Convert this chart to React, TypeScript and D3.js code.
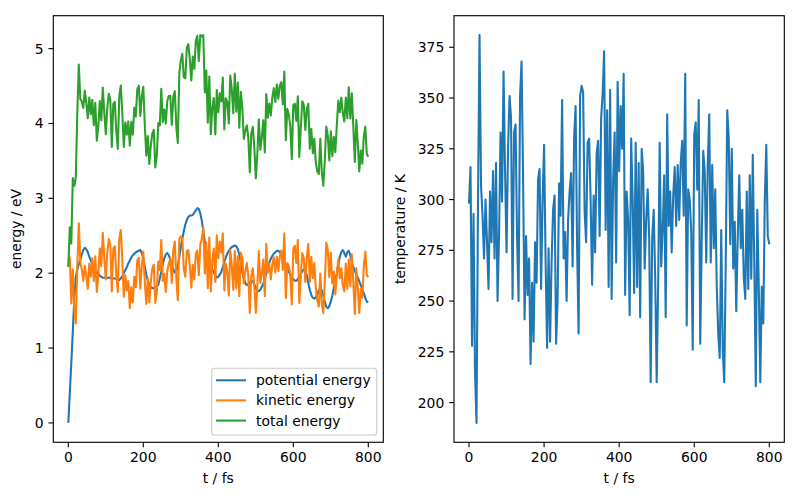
import React from 'react';
import * as d3 from 'd3';

// ---------------- data ----------------
const TIME_STEP_FS = 4;

// temperature / K, sampled every 4 fs (t = 0 ... 800)
const temperature: number[] = [
  298, 316, 228, 293, 215, 190, 300, 381, 307, 292,
  271, 300, 279, 256, 304, 279, 314, 271, 318, 250,
  282, 333, 299, 363, 314, 274, 325, 351, 340, 251,
  333, 337, 282, 250, 351, 368, 312, 241, 282, 253,
  271, 219, 259, 230, 279, 259, 310, 315, 256, 300,
  327,
  270, 227, 276, 230, 269, 295, 302, 229, 250, 308,
  292, 349, 271, 284, 250, 290, 304, 313, 267, 330,
  346, 276, 234, 351, 356, 353, 294, 279, 328, 330,
  300, 258, 302, 274, 323, 329, 282, 340, 352, 373,
  285, 344, 257, 354, 251, 310, 333, 269, 358, 314,
  346, 325, 362, 253, 304, 290, 243, 330, 300, 254,
  328, 257, 318, 242, 325, 314, 266, 290, 305, 281,
  210, 281, 295, 262, 210, 259, 328, 267, 285, 312,
  242, 342, 287, 304, 274, 302, 316, 287, 317, 290,
  318, 329, 292, 362, 238, 305, 300, 284, 226, 332,
  338, 305, 349, 229, 279, 324, 314, 269, 317, 342,
  269, 317, 276, 305, 257, 234, 222, 285, 226, 210,
  269, 344, 330, 278, 325, 266, 289, 245, 282, 312,
  276, 295, 262, 251, 304, 256, 312, 261, 322, 269,
  208, 295, 257, 210, 257, 239, 299, 327, 282, 278,
];

// potential energy / eV, sampled every 4 fs (t = 0 ... 800)
const potentialEnergy: number[] = [
  0.00, 0.40, 0.80, 1.22, 1.66, 1.95, 2.05, 2.12, 2.18, 2.25,
  2.31, 2.34, 2.32, 2.28, 2.22, 2.17, 2.12, 2.08, 2.05, 2.02,
  1.99, 1.97, 1.95, 1.94, 1.94, 1.94, 1.94, 1.94, 1.94, 1.93,
  1.93, 1.93, 1.92, 1.91, 1.91, 1.93, 1.96, 2.00, 2.04, 2.08,
  2.13, 2.17, 2.21, 2.24, 2.26, 2.28, 2.29, 2.30, 2.31, 2.27,
  2.20, 2.09, 1.98, 1.90, 1.85, 1.82, 1.80, 1.80, 1.81, 1.82,
  1.85, 1.93, 2.02, 2.12, 2.20, 2.25, 2.27, 2.24, 2.18, 2.11,
  2.05, 2.01, 2.03, 2.10, 2.22, 2.35, 2.46, 2.56, 2.65, 2.71,
  2.75, 2.77, 2.77, 2.78, 2.81, 2.84, 2.87, 2.86, 2.80, 2.70,
  2.57, 2.42, 2.30, 2.21, 2.15, 2.10, 2.05, 2.01, 1.97, 1.94,
  1.95, 1.98, 2.02, 2.08, 2.15, 2.21, 2.26, 2.30, 2.33, 2.35,
  2.36, 2.37, 2.36, 2.32, 2.25, 2.15, 2.02, 1.93, 1.87, 1.84,
  1.85, 1.88, 1.90, 1.89, 1.85, 1.80, 1.77, 1.76, 1.78, 1.82,
  1.86, 1.92, 2.00, 2.07, 2.14, 2.19, 2.23, 2.26, 2.28, 2.30,
  2.30, 2.28, 2.25, 2.21, 2.16, 2.11, 2.06, 2.02, 1.98, 1.94,
  1.92, 1.90, 1.90, 1.92, 1.95, 1.99, 2.03, 2.05, 2.03, 1.97,
  1.87, 1.78, 1.71, 1.67, 1.66, 1.68, 1.72, 1.77, 1.80, 1.77,
  1.70, 1.62, 1.55, 1.53, 1.56, 1.62, 1.70, 1.80, 1.90, 2.00,
  2.12, 2.22, 2.28, 2.31, 2.27, 2.22, 2.28, 2.30, 2.24, 2.15,
  2.08, 2.03, 1.98, 1.94, 1.89, 1.84, 1.79, 1.73, 1.67, 1.62,
  1.61,
];

// kinetic energy follows from the temperature (3/2 N kB, eV per K)
const KE_PER_KELVIN = 0.007;

const times: number[] = temperature.map((_, i) => i * TIME_STEP_FS);
const kineticEnergy: number[] = temperature.map((T) => T * KE_PER_KELVIN);
const totalEnergy: number[] = potentialEnergy.map((p, i) => p + kineticEnergy[i]);

const timeTicks = [0, 200, 400, 600, 800];
const energyTicks = [0, 1, 2, 3, 4, 5];
const temperatureTicks = [200, 225, 250, 275, 300, 325, 350, 375];
const seriesNames = ['potential energy', 'kinetic energy', 'total energy'];
const seriesColors = ['#1f77b4', '#ff7f0e', '#2ca02c'];

// ---------------- layout ----------------
const W = 800;
const H = 500;
const FONT = "'DejaVu Sans', sans-serif";
const FS = 13.9;
const SPINE = 1.11;
const TICK = 4.86;
const PAD = 4.86;
const LW = 2.08;

const LEFT = { x0: 53.3, x1: 383.3, y0: 15.7, y1: 442.3 };
const RIGHT = { x0: 454, x1: 784.3, y0: 15.7, y1: 442.3 };

function padded(ext: [number, number]): [number, number] {
  const r = ext[1] - ext[0];
  return [ext[0] - 0.05 * r, ext[1] + 0.05 * r];
}

type Box = { x0: number; x1: number; y0: number; y1: number };

function AxisFrame({
  box,
  x,
  y,
  xTicks,
  yTicks,
  xLabel,
  yLabel,
  yLabelX,
}: {
  box: Box;
  x: d3.ScaleLinear<number, number>;
  y: d3.ScaleLinear<number, number>;
  xTicks: number[];
  yTicks: number[];
  xLabel: string;
  yLabel: string;
  yLabelX: number;
}) {
  const cy = (box.y0 + box.y1) / 2;
  const cx = (box.x0 + box.x1) / 2;
  return (
    <g fontFamily={FONT} fontSize={FS} fill="#000">
      <rect
        x={box.x0}
        y={box.y0}
        width={box.x1 - box.x0}
        height={box.y1 - box.y0}
        fill="none"
        stroke="#000"
        strokeWidth={SPINE}
      />
      {xTicks.map((t) => (
        <g key={'x' + t}>
          <line x1={x(t)} x2={x(t)} y1={box.y1} y2={box.y1 + TICK} stroke="#000" strokeWidth={SPINE} />
          <text x={x(t)} y={box.y1 + TICK + PAD + 10.3} textAnchor="middle">
            {t}
          </text>
        </g>
      ))}
      {yTicks.map((t) => (
        <g key={'y' + t}>
          <line x1={box.x0 - TICK} x2={box.x0} y1={y(t)} y2={y(t)} stroke="#000" strokeWidth={SPINE} />
          <text x={box.x0 - TICK - PAD} y={y(t) + 5} textAnchor="end">
            {t}
          </text>
        </g>
      ))}
      <text x={cx} y={483} textAnchor="middle">
        {xLabel}
      </text>
      <text
        x={yLabelX}
        y={cy}
        textAnchor="middle"
        transform={`rotate(-90, ${yLabelX}, ${cy})`}
      >
        {yLabel}
      </text>
    </g>
  );
}

export default function App() {
  const energySeries = [potentialEnergy, kineticEnergy, totalEnergy];
  const allE = energySeries.flat();

  const xL = d3.scaleLinear().domain(padded([0, 800])).range([LEFT.x0, LEFT.x1]);
  const yL = d3
    .scaleLinear()
    .domain(padded([d3.min(allE) as number, d3.max(allE) as number]))
    .range([LEFT.y1, LEFT.y0]);

  const xR = d3.scaleLinear().domain(padded([0, 800])).range([RIGHT.x0, RIGHT.x1]);
  const yR = d3
    .scaleLinear()
    .domain(padded([d3.min(temperature) as number, d3.max(temperature) as number]))
    .range([RIGHT.y1, RIGHT.y0]);

  const lineL = d3
    .line<number>()
    .x((_, i) => xL(times[i]))
    .y((d) => yL(d));
  const lineR = d3
    .line<number>()
    .x((_, i) => xR(times[i]))
    .y((d) => yR(d));

  const legend = { x: 211.7, y: 368.3, w: 165, h: 66.7 };
  const rowY = [380.3, 400.4, 420.6];

  return (
    <svg
      width={W}
      height={H}
      viewBox={`0 0 ${W} ${H}`}
      style={{ position: 'absolute', left: 0, top: 0, background: '#fff' }}
    >
      <rect x={0} y={0} width={W} height={H} fill="#fff" />

      {energySeries.map((s, k) => (
        <path
          key={seriesNames[k]}
          d={lineL(s) || ''}
          fill="none"
          stroke={seriesColors[k]}
          strokeWidth={LW}
          strokeLinejoin="round"
        />
      ))}
      <AxisFrame
        box={LEFT}
        x={xL}
        y={yL}
        xTicks={timeTicks}
        yTicks={energyTicks}
        xLabel="t / fs"
        yLabel="energy / eV"
        yLabelX={21}
      />

      <g>
        <rect
          x={legend.x}
          y={legend.y}
          width={legend.w}
          height={legend.h}
          rx={2.8}
          fill="#fff"
          fillOpacity={0.8}
          stroke="#cccccc"
          strokeWidth={1.11}
        />
        {seriesNames.map((name, k) => (
          <g key={name}>
            <line
              x1={216}
              x2={246}
              y1={rowY[k]}
              y2={rowY[k]}
              stroke={seriesColors[k]}
              strokeWidth={LW}
            />
            <text x={256} y={rowY[k] + 5} fontFamily={FONT} fontSize={FS} fill="#000">
              {name}
            </text>
          </g>
        ))}
      </g>

      <path
        d={lineR(temperature) || ''}
        fill="none"
        stroke="#1f77b4"
        strokeWidth={LW}
        strokeLinejoin="round"
      />
      <AxisFrame
        box={RIGHT}
        x={xR}
        y={yR}
        xTicks={timeTicks}
        yTicks={temperatureTicks}
        xLabel="t / fs"
        yLabel="temperature / K"
        yLabelX={405}
      />
    </svg>
  );
}
